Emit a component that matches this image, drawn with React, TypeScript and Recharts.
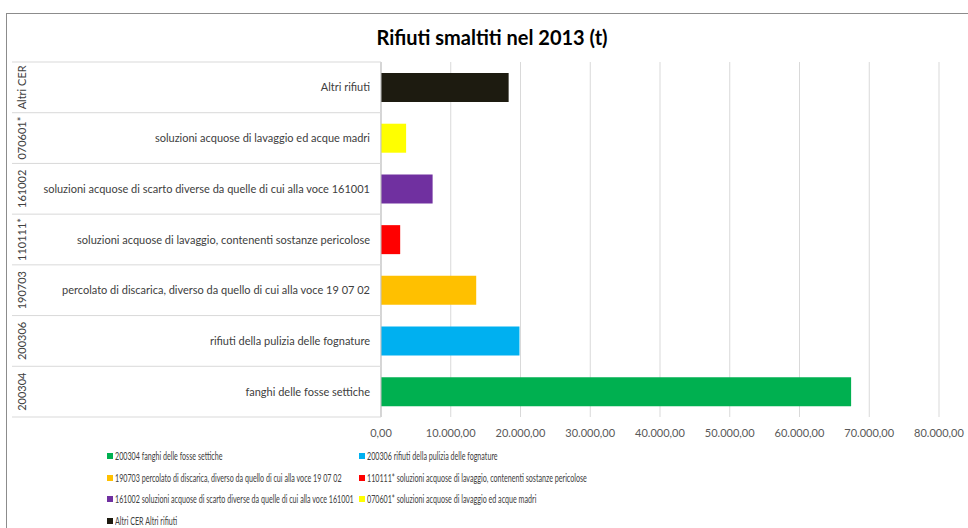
import React from 'react';
import { BarChart, Bar, XAxis, YAxis, CartesianGrid, Cell } from 'recharts';

// codici CER, descrizioni, quantità (t) - dall'alto verso il basso
const codes = ['Altri CER', '070601*', '161002', '110111*', '190703', '200306', '200304'];
const descriptions = [
  'Altri rifiuti',
  'soluzioni acquose di lavaggio ed acque madri',
  'soluzioni acquose di scarto diverse da quelle di cui alla voce 161001',
  'soluzioni acquose di lavaggio, contenenti sostanze pericolose',
  'percolato di discarica, diverso da quello di cui alla voce 19 07 02',
  'rifiuti della pulizia delle fognature',
  'fanghi delle fosse settiche',
];
const quantities = [18300, 3600, 7400, 2750, 13650, 19850, 67400];
const colors = ['#1d1b10', '#ffff00', '#7030a0', '#ff0000', '#ffc000', '#00b0f0', '#00b050'];
const xTicks = [0, 10000, 20000, 30000, 40000, 50000, 60000, 70000, 80000];

const data = codes.map((code, i) => ({ code, desc: descriptions[i], value: quantities[i], color: colors[i] }));
// legenda nell'ordine di Excel (dal basso)
const legendItems = [...data].reverse();

const FONT = 'Lato, "Open Sans", sans-serif';
const W = 968;
const H = 528;
const PLOT_TOP = 62;
const PLOT_BOTTOM = 417;
const AXIS_X = 381;
const X_AXIS_H = 30;
const ROW_H = (PLOT_BOTTOM - PLOT_TOP) / codes.length;

const fmt = (v: number) => {
  const s = Math.round(v).toString().replace(/\B(?=(\d{3})+(?!\d))/g, '.');
  return s + ',00';
};

const CatTick = (props: any) => {
  const { y, payload, index } = props;
  const row = data[index] || data.find((d) => d.desc === payload.value);
  const top = y - ROW_H / 2;
  return (
    <g>
      <line x1={12} x2={AXIS_X} y1={top} y2={top} stroke="#d9d9d9" />
      {index === codes.length - 1 && (
        <line x1={12} x2={AXIS_X} y1={top + ROW_H} y2={top + ROW_H} stroke="#d9d9d9" />
      )}
      <text x={370} y={y} dy={4} textAnchor="end" fill="#404040" fontSize={11} fontFamily={FONT}>
        {payload.value}
      </text>
      <text
        x={22}
        y={y}
        dy={4}
        transform={`rotate(-90 22 ${y})`}
        textAnchor="middle"
        fill="#404040"
        fontSize={11}
        fontFamily={FONT}
      >
        {row ? row.code : ''}
      </text>
    </g>
  );
};

export default function App() {
  return (
    <div style={{ position: 'absolute', left: 0, top: 0, width: W, height: H, background: '#fff', overflow: 'hidden', fontFamily: FONT }}>
      <div
        style={{
          position: 'absolute',
          left: 6,
          top: 13,
          width: 1000,
          height: 600,
          borderLeft: '1.5px solid #8c8c8c',
          borderTop: '1.5px solid #8c8c8c',
        }}
      />
      <div
        style={{
          position: 'absolute',
          left: 6,
          top: 25,
          width: 972,
          textAlign: 'center',
          fontSize: 20,
          fontWeight: 700,
          color: '#000',
        }}
      >
        Rifiuti smaltiti nel 2013 (t)
      </div>
      <div style={{ position: 'absolute', left: 0, top: 0 }}>
        <BarChart
          width={W}
          height={H}
          layout="vertical"
          data={data}
          margin={{ top: PLOT_TOP, right: W - 939, bottom: H - PLOT_BOTTOM - X_AXIS_H, left: 0 }}
          barCategoryGap={0}
        >
          <CartesianGrid horizontal={false} vertical stroke="#d9d9d9" />
          <XAxis
            type="number"
            domain={[0, 80000]}
            ticks={xTicks}
            tickFormatter={fmt}
            axisLine={false}
            tickLine={false}
            height={X_AXIS_H}
            tick={{ fill: '#595959', fontSize: 11, fontFamily: FONT }}
            tickMargin={6}
            interval={0}
          />
          <YAxis
            type="category"
            dataKey="desc"
            width={AXIS_X}
            tick={<CatTick />}
            tickLine={false}
            axisLine={{ stroke: '#bfbfbf' }}
            interval={0}
          />
          <Bar dataKey="value" barSize={29} isAnimationActive={false}>
            {data.map((d) => (
              <Cell key={d.code} fill={d.color} />
            ))}
          </Bar>
        </BarChart>
      </div>
      <div
        style={{
          position: 'absolute',
          left: 107,
          top: 448,
          width: 620,
          display: 'grid',
          gridTemplateColumns: '252px 368px',
          rowGap: 5.5,
          fontSize: 10.5,
          color: '#404040',
        }}
      >
        {legendItems.map((d) => (
          <div key={d.code} style={{ display: 'flex', alignItems: 'center', height: 16, whiteSpace: 'nowrap', overflow: 'visible' }}>
            <span style={{ display: 'inline-block', flexShrink: 0, width: 6, height: 6, background: d.color, marginRight: 2 }} />
            <span style={{ display: 'inline-block', transform: 'scaleX(0.68)', transformOrigin: 'left center' }}>
              {d.code} {d.desc}
            </span>
          </div>
        ))}
      </div>
    </div>
  );
}
